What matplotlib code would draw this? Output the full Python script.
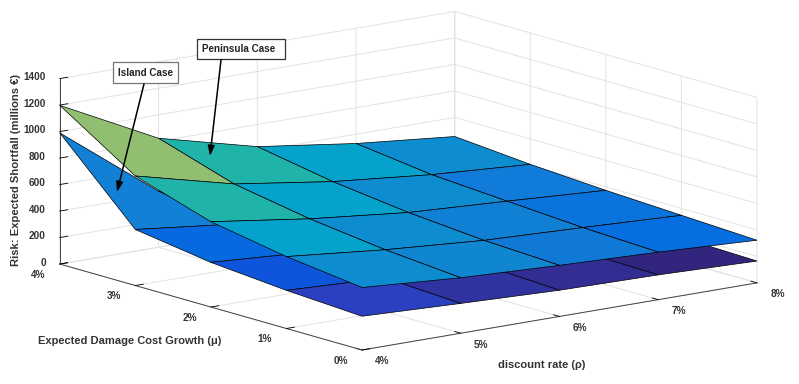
import numpy as np
import matplotlib
matplotlib.use("Agg")
import matplotlib.pyplot as plt
from matplotlib.patches import FancyArrowPatch, Rectangle
from mpl_toolkits.mplot3d import proj3d

plt.rcParams["font.family"] = ["Liberation Sans", "DejaVu Sans"]
plt.rcParams["font.weight"] = "bold"

W, H = 799, 384

rho = [4, 5, 6, 7, 8]
mu = [0, 1, 2, 3, 4]
rho_labels = ["4%", "5%", "6%", "7%", "8%"]
mu_labels = ["0%", "1%", "2%", "3%", "4%"]
z_ticks = [0, 200, 400, 600, 800, 1000, 1200, 1400]

# rows are mu = 0..4, columns are rho = 4..8
peninsula = [
    [472, 419, 386, 359, 322],
    [543, 468, 412, 382, 348],
    [644, 539, 460, 419, 374],
    [827, 640, 531, 457, 408],
    [1198, 823, 633, 530, 456],
]
island = [
    [255, 225, 198, 187, 165],
    [288, 255, 225, 198, 180],
    [337, 288, 255, 225, 195],
    [423, 337, 288, 255, 220],
    [990, 423, 337, 288, 250],
]

peninsula_colors = [
    ["#0E8CD0", "#1085D0", "#1079D6", "#066EDE"],
    ["#05A3CC", "#0E8CD0", "#1080D4", "#0B74DC"],
    ["#1FB3AA", "#05A3CC", "#0E8CD0", "#107BD8"],
    ["#92BE72", "#1FB3AA", "#05A3CC", "#0E8CD0"],
]
island_colors = [
    ["#2B40C0", "#30329F", "#322D92", "#32257E"],
    ["#0F55DC", "#0F55DC", "#2B40C0", "#30329F"],
    ["#0669E0", "#0F55DC", "#0F55DC", "#2B40C0"],
    ["#1280D4", "#0669E0", "#0F55DC", "#0F55DC"],
]

TEXT = "#333333"
GRID = "#E2E2E2"

fig = plt.figure(figsize=(W / 100, H / 100), dpi=100)
ax = fig.add_axes([0, 0, 1, 1], projection="3d", computed_zorder=False)
ax.set_proj_type("ortho")
ax.view_init(elev=12.7, azim=-127.7)
ax.set_box_aspect((499, 494, 190))
ax.set_xlim(4, 8, view_margin=0)
ax.set_ylim(0, 4, view_margin=0)
ax.set_zlim(0, 1400, view_margin=0)

X, Y = np.meshgrid(rho, mu)
low = ax.plot_surface(X, Y, np.array(island, float), facecolors=np.array(island_colors, dtype=object),
                      rstride=1, cstride=1, shade=False, edgecolor="black", linewidth=0.5, zorder=2)
top = ax.plot_surface(X, Y, np.array(peninsula, float), facecolors=np.array(peninsula_colors, dtype=object),
                      rstride=1, cstride=1, shade=False, edgecolor="black", linewidth=0.5, zorder=3)
low.set_clip_on(False)
top.set_clip_on(False)

ax.set_xticks(rho)
ax.set_yticks(mu)
ax.set_zticks(z_ticks)
ax.tick_params(labelbottom=False, labelleft=False, labelsize=1, pad=0)
ax.set_xticklabels([])
ax.set_yticklabels([])
ax.set_zticklabels([])

for axis in (ax.xaxis, ax.yaxis, ax.zaxis):
    axis.set_pane_color((1, 1, 1, 0))
    axis.pane.set_edgecolor(GRID)
    axis.line.set_color("#444444")
    axis.line.set_linewidth(0.7)
    axis._axinfo["grid"]["color"] = GRID
    axis._axinfo["grid"]["linewidth"] = 0.7
    axis._axinfo["tick"]["inward_factor"] = 0.0
    axis._axinfo["tick"]["outward_factor"] = 0.25
    axis._axinfo["tick"]["linewidth"] = {True: 0.6, False: 0.4}
    axis._axinfo["tick"]["color"] = "#444444"


def to_px(x, y, z):
    u, v, _ = proj3d.proj_transform(x, y, z, ax.get_proj())
    return ax.transData.transform((u, v))


# line the box up with the picture using the near floor edge
fig.canvas.draw()
a = to_px(4, 0, 0)
b = to_px(8, 0, 0)
scale = 395.0 / (b[0] - a[0])
side = H * scale
cx = 362 - (a[0] - W / 2) * scale
cy = (H - 350) - (a[1] - H / 2) * scale
ax.set_position([(cx - side / 2) / W, (cy - side / 2) / H, side / W, side / H])
fig.canvas.draw()


# tick labels sit a fixed pixel offset away from their tick on the box
def tick_label(pos, text, dx, dy, ha="center"):
    px = to_px(*pos)
    fig.text((px[0] + dx) / W, (px[1] + dy) / H, text, ha=ha, va="center", fontsize=7.2, color=TEXT)


for r, lab in zip(rho, rho_labels):
    tick_label((r, 0, 0), lab, 20.5, -11.5)
for m, lab in zip(mu, mu_labels):
    tick_label((4, m, 0), lab, -21.5, -10.5)
for v in z_ticks:
    tick_label((4, 4, v), str(v), -14, 1.5, ha="right")

fig.text(16 / W, 1 - 170 / H, "Risk: Expected Shortfall (millions €)", rotation=90,
         ha="center", va="center", fontsize=8.1, color=TEXT)
fig.text(130 / W, 1 - 341 / H, "Expected Damage Cost Growth (μ)",
         ha="center", va="center", fontsize=8, color=TEXT)
fig.text(542 / W, 1 - 365 / H, "discount rate (ρ)",
         ha="center", va="center", fontsize=8, color=TEXT)


def callout(label, box, text_x, tail, head, edge):
    x0, y0, x1, y1 = box
    fig.add_artist(Rectangle((x0 / W, 1 - y1 / H), (x1 - x0) / W, (y1 - y0) / H, transform=fig.transFigure,
                             fc="white", ec=edge, lw=0.9, zorder=8))
    fig.text(text_x / W, 1 - (y0 + y1) / 2 / H, label, ha="left", va="center", fontsize=7.1,
             color="#222222", zorder=10)
    fig.add_artist(FancyArrowPatch(
        (tail[0] / W, 1 - tail[1] / H), (head[0] / W, 1 - head[1] / H),
        transform=fig.transFigure, arrowstyle="-|>,head_length=6,head_width=2",
        color="black", lw=1.1, shrinkA=0, shrinkB=0, zorder=9))


callout("Peninsula Case", (197, 39, 285, 59), 202, (221, 60), (210, 156), "#333333")
callout("Island Case", (113, 62, 178, 83), 118, (144, 84), (117, 192), "#777777")

fig.savefig("out.png", dpi=100)
